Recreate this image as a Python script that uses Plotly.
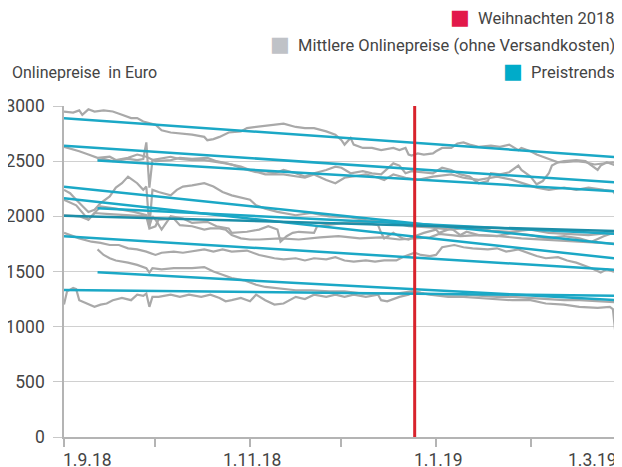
"""Online prices of a product group around Christmas 2018, with linear price trends."""

import pandas as pd
import plotly.graph_objects as go

START = pd.Timestamp("2018-09-01")
XMAS = pd.Timestamp("2018-12-25")
X_END = pd.Timestamp("2019-03-02 08:00")

FONT = "Roboto, Liberation Sans, sans-serif"
GREY = "#a9a9a9"
TEAL = "#1ba8c6"
TEAL_DARK = "#1c8ea8"
RED = "#d8232c"
TEXT = "#444444"

# mean online prices (days after 1.9.18 -> euro)
G1_DAYS = [0, 3, 5, 6, 8, 10, 13, 16, 19, 22, 24, 26, 30, 32, 35, 39, 42, 46, 47, 49, 51, 54, 58, 60,
           63, 66, 69, 72, 76, 79, 82, 86, 89, 91, 92, 94, 95, 98, 101, 104, 108, 110, 112, 113, 114,
           116, 118, 121, 122, 124, 127, 129, 131, 133, 136, 140, 143, 146, 149, 150, 153, 155, 157,
           159, 162, 164, 168, 171, 172, 175, 176, 178, 180, 182]
G1_VALS = [2950, 2940, 2960, 2920, 2970, 2950, 2960, 2950, 2920, 2890, 2890, 2860, 2830, 2780, 2760,
           2750, 2740, 2720, 2690, 2700, 2720, 2760, 2770, 2800, 2810, 2820, 2830, 2840, 2810, 2800,
           2800, 2770, 2740, 2690, 2650, 2710, 2650, 2620, 2620, 2600, 2620, 2600, 2620, 2560, 2550,
           2570, 2560, 2570, 2590, 2620, 2620, 2660, 2670, 2650, 2630, 2640, 2630, 2650, 2600, 2620,
           2590, 2560, 2540, 2520, 2490, 2500, 2510, 2500, 2480, 2420, 2460, 2490, 2470, 2450]

G2_DAYS = [0, 3, 5, 8, 11, 15, 17, 21, 24, 27, 30, 35, 38, 42, 47, 50, 55, 59, 63, 66, 69, 72, 76,
           79, 82, 86, 89, 91, 94, 98, 101, 104, 108, 110, 112, 114, 117, 121, 124, 127, 130, 133,
           136, 139, 140, 143, 146, 149, 150, 153, 155, 157, 159, 160, 162, 164, 168, 171, 174, 177,
           180, 182]
G2_VALS = [2630, 2610, 2590, 2560, 2530, 2540, 2510, 2530, 2560, 2540, 2500, 2510, 2530, 2520, 2530,
           2500, 2470, 2430, 2400, 2410, 2390, 2420, 2390, 2360, 2390, 2420, 2450, 2440, 2390, 2410,
           2390, 2380, 2480, 2460, 2390, 2410, 2400, 2390, 2440, 2420, 2380, 2360, 2300, 2320, 2390,
           2380, 2400, 2460, 2420, 2360, 2290, 2320, 2390, 2460, 2490, 2490, 2500, 2490, 2470, 2480,
           2490, 2470]

G3_DAYS = [11, 13, 16, 18, 21, 24, 26, 27, 28, 29, 31, 35, 38, 42, 46, 49, 53, 58, 61, 66, 72, 79,
           82, 86, 89, 92, 95, 99, 103, 105, 108, 112, 116, 121, 127, 131, 136, 142, 147, 152, 155,
           159, 164, 168, 172, 177, 180, 181, 182]
G3_VALS = [2510, 2520, 2500, 2510, 2520, 2510, 2520, 2670, 2260, 2510, 2520, 2540, 2520, 2510, 2510,
           2500, 2480, 2450, 2420, 2380, 2380, 2350, 2380, 2330, 2300, 2350, 2360, 2380, 2350, 2330,
           2380, 2350, 2330, 2360, 2380, 2350, 2330, 2360, 2330, 2290, 2260, 2240, 2260, 2240, 2260,
           2240, 2230, 2190, 2230]

G4_DAYS = [0, 2, 4, 6, 8, 10, 12, 15, 17, 19, 21, 22, 24, 26, 27, 28, 29, 31, 35, 37, 39, 42, 46,
           49, 52, 55, 59, 61, 63, 66, 70, 76, 81, 87, 94, 100, 107, 113, 120, 127, 133, 140, 146,
           153, 159, 166, 172, 179, 182]
G4_VALS = [2240, 2210, 2150, 2090, 2040, 2060, 2120, 2180, 2260, 2300, 2360, 2340, 2300, 2240, 2270,
           1900, 2240, 2220, 2190, 2240, 2270, 2280, 2300, 2270, 2220, 2190, 2160, 2150, 2100, 2070,
           2040, 2010, 2030, 2000, 1990, 1960, 1950, 1910, 1900, 1880, 1900, 1870, 1860, 1880, 1850,
           1840, 1830, 1850, 1840]

G5_DAYS = [0, 4, 8, 12, 17, 23, 27, 28, 29, 30, 32, 33, 35, 39, 42, 47, 50, 54, 55, 60, 64, 67, 70,
           71, 73, 75, 77, 82, 83, 86, 92, 98, 103, 104, 105, 108, 111, 113, 115, 118, 122, 123, 127,
           130, 132, 136, 142, 147, 153, 158, 164, 169, 173, 177, 180, 182]
G5_VALS = [2150, 2100, 1970, 2090, 2070, 2040, 2010, 1910, 2000, 1970, 1880, 1920, 2000, 1980, 1940,
           1950, 1910, 1890, 1850, 1860, 1880, 1910, 1880, 1770, 1820, 1850, 1860, 1850, 1910, 1920,
           1940, 1950, 1920, 1850, 1800, 1850, 1800, 1790, 1820, 1850, 1880, 1850, 1890, 1830, 1860,
           1830, 1820, 1850, 1830, 1800, 1820, 1800, 1770, 1820, 1850, 1880]

G6_DAYS = [0, 3, 5, 8, 10, 15, 22, 27, 28, 30, 31, 36, 38, 42, 46, 48, 51, 53, 55, 58, 61, 64, 71,
           77, 84, 90, 97, 104, 110, 117, 120, 123, 130, 136, 143, 150, 156, 163, 169, 176, 182]
G6_VALS = [2010, 2000, 2000, 1970, 2030, 2020, 2010, 2000, 1890, 1910, 1970, 1980, 1920, 1910, 1880,
           1890, 1890, 1880, 1830, 1800, 1790, 1790, 1800, 1790, 1810, 1820, 1800, 1810, 1790, 1800,
           1810, 1840, 1820, 1830, 1820, 1800, 1790, 1780, 1770, 1760, 1750]

G7_DAYS = [0, 3, 5, 9, 12, 15, 18, 21, 24, 27, 30, 32, 36, 39, 42, 46, 49, 52, 55, 60, 64, 69, 72,
           76, 79, 82, 86, 89, 92, 95, 99, 102, 105, 109, 111, 113, 115, 117, 120, 122, 124, 128, 131,
           134, 139, 142, 145, 149, 152, 155, 158, 162, 165, 168, 171, 173, 176, 178, 180, 182]
G7_VALS = [1850, 1820, 1800, 1770, 1760, 1740, 1740, 1710, 1700, 1680, 1650, 1670, 1680, 1670, 1680,
           1700, 1680, 1700, 1680, 1690, 1650, 1620, 1610, 1620, 1600, 1620, 1610, 1630, 1600, 1590,
           1600, 1590, 1600, 1600, 1630, 1650, 1670, 1650, 1640, 1650, 1720, 1740, 1720, 1710, 1700,
           1710, 1680, 1700, 1670, 1640, 1620, 1630, 1600, 1580, 1550, 1530, 1490, 1520, 1500, 1490]

G8_DAYS = [11, 13, 15, 17, 21, 24, 27, 28, 29, 32, 36, 39, 42, 46, 49, 52, 55, 59, 63, 66, 70, 76,
           81, 87, 92, 98, 103, 109, 114, 120, 126, 131, 136, 142, 147, 153, 158, 164, 169, 175, 179,
           180, 181, 182]
G8_VALS = [1700, 1650, 1620, 1600, 1580, 1560, 1530, 1490, 1530, 1520, 1530, 1530, 1530, 1540, 1500,
           1470, 1440, 1420, 1380, 1360, 1350, 1330, 1330, 1320, 1320, 1300, 1300, 1300, 1320, 1290,
           1270, 1270, 1260, 1250, 1240, 1240, 1210, 1200, 1180, 1170, 1180, 1160, 895, 1150]

G9_DAYS = [0, 1, 3, 4, 5, 8, 10, 12, 14, 16, 19, 22, 24, 26, 27, 28, 29, 31, 35, 38, 41, 45, 48, 51,
           53, 55, 58, 61, 63, 66, 69, 72, 76, 79, 82, 86, 89, 92, 95, 99, 103, 104, 106, 110, 113,
           115, 118, 122, 126, 131, 136, 142, 147, 153, 158, 164, 169, 175, 179, 182]
G9_VALS = [1200, 1320, 1350, 1340, 1240, 1200, 1180, 1200, 1210, 1240, 1260, 1240, 1290, 1280, 1300,
           1180, 1270, 1270, 1290, 1270, 1290, 1270, 1290, 1260, 1230, 1240, 1260, 1230, 1290, 1240,
           1200, 1210, 1270, 1250, 1290, 1270, 1290, 1270, 1290, 1270, 1290, 1240, 1230, 1270, 1290,
           1320, 1300, 1290, 1290, 1290, 1280, 1270, 1270, 1260, 1250, 1240, 1240, 1230, 1230, 1220]

GREY_SERIES = [
    (G1_DAYS, G1_VALS), (G2_DAYS, G2_VALS), (G3_DAYS, G3_VALS), (G4_DAYS, G4_VALS),
    (G5_DAYS, G5_VALS), (G6_DAYS, G6_VALS), (G7_DAYS, G7_VALS), (G8_DAYS, G8_VALS),
    (G9_DAYS, G9_VALS),
]

# linear price trends: first day, value there, value on the last day
TREND_START_DAY = [0, 0, 11, 0, 0, 11, 0, 0, 11, 0]
TREND_START_VAL = [2890, 2640, 2505, 2268, 2163, 2073, 2006, 1820, 1493, 1332]
TREND_END_VAL = [2535, 2305, 2225, 1745, 1615, 1840, 1865, 1513, 1240, 1280]
TREND_END_DAY = 182

MONTH_TICKS = pd.date_range("2018-09-01", "2019-03-01", freq="MS")
DATE_LABELS = ["1.9.18", "1.11.18", "1.1.19", "1.3.19"]
DATE_LABEL_AT = ["2018-09-01", "2018-11-01", "2019-01-01", "2019-03-01"]
Y_TICKS = [0, 500, 1000, 1500, 2000, 2500, 3000]

LEGEND = [
    ("Weihnachten 2018", "#e2194a"),
    ("Mittlere Onlinepreise (ohne Versandkosten)", "#bfc2c7"),
    ("Preistrends", "#00abc9"),
]


def to_dates(days):
    return START + pd.to_timedelta(days, unit="D")


def build_figure() -> go.Figure:
    fig = go.Figure()
    for days, vals in GREY_SERIES:
        fig.add_trace(
            go.Scatter(x=to_dates(days), y=vals, mode="lines",
                       line=dict(color=GREY, width=2.2), showlegend=False, hoverinfo="skip")
        )
    for i, (d0, v0, v1) in enumerate(zip(TREND_START_DAY, TREND_START_VAL, TREND_END_VAL)):
        fig.add_trace(
            go.Scatter(x=to_dates([d0, TREND_END_DAY]), y=[v0, v1], mode="lines",
                       line=dict(color=TEAL_DARK if i == 6 else TEAL, width=2.5),
                       showlegend=False, hoverinfo="skip")
        )

    fig.add_shape(type="line", x0=XMAS, x1=XMAS, y0=0, y1=3000, xref="x", yref="y",
                  line=dict(color=RED, width=3), layer="above")

    # legend, right aligned like the print original
    for k, (label, color) in enumerate(LEGEND):
        fig.add_annotation(
            text=(f'<span style="color:{color};font-family:DejaVu Sans;font-size:21px">■</span>'
                  f'\u00a0\u00a0{label}'),
            xref="paper", yref="paper", x=1, y=1.269 - 0.0815 * k,
            xanchor="right", yanchor="middle", xshift=-3, showarrow=False,
            font=dict(family=FONT, size=16.5, color=TEXT),
        )
    fig.add_annotation(
        text="Onlinepreise\u00a0\u00a0in Euro", xref="paper", yref="paper", x=0, y=1.1,
        xanchor="left", yanchor="middle", xshift=-54, showarrow=False,
        font=dict(family=FONT, size=16, color=TEXT),
    )

    # date labels: the first one starts at its tick, the last one ends at the frame
    anchors = ["left", "center", "center", "right"]
    for label, at, anchor in zip(DATE_LABELS, DATE_LABEL_AT, anchors):
        fig.add_annotation(
            text=label, x=at, xref="x", y=0, yref="paper",
            xanchor=anchor, yanchor="top", yshift=-11,
            xshift={"left": -3, "center": 2, "right": 3}[anchor], showarrow=False,
            font=dict(family=FONT, size=17.5, color=TEXT),
        )

    fig.update_xaxes(
        type="date", range=[START, X_END], tickvals=MONTH_TICKS, showticklabels=False,
        showgrid=False, showline=True, linecolor="#b4b4b4", linewidth=1.5,
        ticks="outside", ticklen=8, tickcolor="#b4b4b4", tickwidth=1.5,
        automargin=False, zeroline=False,
    )
    fig.update_yaxes(
        range=[0, 3000], tickvals=Y_TICKS, showgrid=True, gridcolor="#d0d0d0", gridwidth=1,
        showline=True, linecolor="#b4b4b4", linewidth=1.5, automargin=False,
        ticks="outside", ticklen=9, tickcolor="#c8c8c8", tickwidth=1, ticklabelstandoff=5,
        tickfont=dict(family=FONT, size=17.5, color=TEXT), zeroline=False,
    )
    # the page body adds an 8px margin, so the figure is 8px smaller than the window
    fig.update_layout(
        width=614, height=459, margin=dict(l=56, r=2, t=98, b=30, autoexpand=False),
        plot_bgcolor="white", paper_bgcolor="white", showlegend=False,
    )
    return fig


fig = build_figure()
fig.write_html("out.html")
